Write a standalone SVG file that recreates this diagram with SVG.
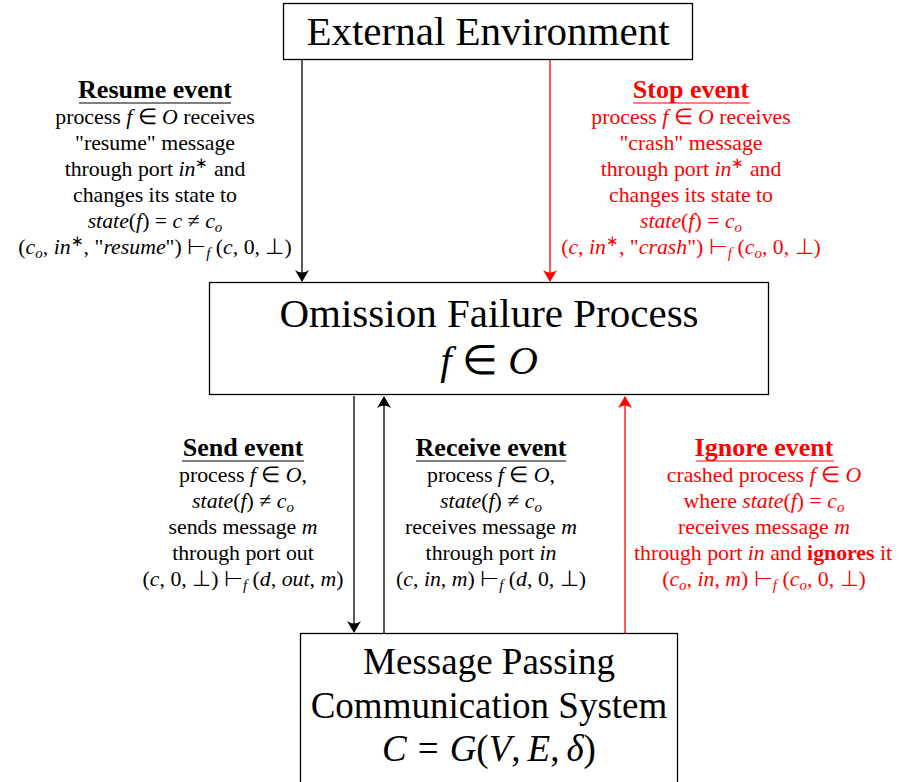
<svg xmlns="http://www.w3.org/2000/svg" width="899" height="782" viewBox="0 0 899 782">
  <style>
    text { font-family: "Liberation Serif", "Times New Roman", serif; text-anchor: middle; }
    .box { fill: #ffffff; stroke: #000000; stroke-width: 1.3; }
    .big { font-size: 41px; }
    .sys { font-size: 37px; }
    .lbl { font-size: 21.8px; }
    .ttl { font-size: 26px; font-weight: bold; }
    .red { fill: #ff0000; }
    .blk { fill: #000000; }
    .i { font-style: italic; }
    .b { font-weight: bold; }
    .sub { font-style: italic; font-size: 15px; }
    .sup { font-size: 15px; }
    .ul { stroke-width: 1.2; }
    .wire { fill: none; stroke-width: 1.3; }
  </style>
  <defs>
    <marker id="ahBlack" viewBox="0 0 12 16" refX="11" refY="8" markerWidth="12" markerHeight="16" markerUnits="userSpaceOnUse" orient="auto">
      <path d="M0,1 Q5,8 0,15 L12,8 Z" fill="#000000"/>
    </marker>
    <marker id="ahRed" viewBox="0 0 12 16" refX="11" refY="8" markerWidth="12" markerHeight="16" markerUnits="userSpaceOnUse" orient="auto">
      <path d="M0,1 Q5,8 0,15 L12,8 Z" fill="#ff0000"/>
    </marker>
  </defs>

  <rect width="899" height="782" fill="#ffffff"/>

  <!-- connectors -->
  <g id="connectors">
    <line class="wire" x1="302" y1="60" x2="302" y2="281" stroke="#000000" marker-end="url(#ahBlack)"/>
    <line class="wire" x1="550" y1="60" x2="550" y2="281" stroke="#ff0000" marker-end="url(#ahRed)"/>
    <line class="wire" x1="354" y1="396" x2="354" y2="632" stroke="#000000" marker-end="url(#ahBlack)"/>
    <line class="wire" x1="384" y1="633" x2="384" y2="397" stroke="#000000" marker-end="url(#ahBlack)"/>
    <line class="wire" x1="625" y1="633" x2="625" y2="397" stroke="#ff0000" marker-end="url(#ahRed)"/>
  </g>

  <!-- nodes -->
  <g id="external-environment">
    <rect class="box" x="283.5" y="3.5" width="409" height="56"/>
    <text class="big" x="488" y="45">External Environment</text>
  </g>

  <g id="omission-failure-process">
    <rect class="box" x="209.5" y="282.5" width="559" height="112"/>
    <text class="big" x="489" y="327">Omission Failure Process</text>
    <text class="big" x="489" y="374"><tspan class="i">f</tspan> ∈ <tspan class="i">O</tspan></text>
  </g>

  <g id="message-passing-system">
    <rect class="box" x="300.5" y="633.5" width="377" height="155"/>
    <text class="sys" x="489" y="674">Message Passing</text>
    <text class="sys" x="489" y="718">Communication System</text>
    <text class="sys" x="489" y="761"><tspan class="i">C</tspan><tspan dx="11">=</tspan><tspan class="i" dx="11">G</tspan>(<tspan class="i">V</tspan>,<tspan class="i" dx="7">E</tspan>,<tspan class="i" dx="7">δ</tspan>)</text>
  </g>

  <!-- event labels -->
  <g id="resume-event" class="blk">
    <text class="ttl" x="155" y="98">Resume event</text>
    <line class="ul" x1="79" y1="103" x2="231" y2="103" stroke="#000000"/>
    <text class="lbl" x="155" y="124">process <tspan class="i">f</tspan> ∈ <tspan class="i">O</tspan> receives</text>
    <text class="lbl" x="155" y="150">"resume" message</text>
    <text class="lbl" x="155" y="176">through port <tspan class="i">in</tspan><tspan class="sup" dy="-8">∗</tspan><tspan dy="8"> and</tspan></text>
    <text class="lbl" x="155" y="202">changes its state to</text>
    <text class="lbl" x="155" y="228"><tspan class="i">state</tspan>(<tspan class="i">f</tspan>) = <tspan class="i">c</tspan> ≠ <tspan class="i">c</tspan><tspan class="sub" dy="4">o</tspan></text>
    <text class="lbl" x="155" y="254">(<tspan class="i">c</tspan><tspan class="sub" dy="4">o</tspan><tspan dy="-4">, </tspan><tspan class="i">in</tspan><tspan class="sup" dy="-8">∗</tspan><tspan dy="8">, "</tspan><tspan class="i">resume</tspan>") ⊢<tspan class="sub" dy="4">f</tspan><tspan dy="-4"> (</tspan><tspan class="i">c</tspan>, 0, ⊥)</text>
  </g>

  <g id="stop-event" class="red">
    <text class="ttl" x="691" y="98">Stop event</text>
    <line class="ul" x1="633" y1="103" x2="750" y2="103" stroke="#ff0000"/>
    <text class="lbl" x="691" y="124">process <tspan class="i">f</tspan> ∈ <tspan class="i">O</tspan> receives</text>
    <text class="lbl" x="691" y="150">"crash" message</text>
    <text class="lbl" x="691" y="176">through port <tspan class="i">in</tspan><tspan class="sup" dy="-8">∗</tspan><tspan dy="8"> and</tspan></text>
    <text class="lbl" x="691" y="202">changes its state to</text>
    <text class="lbl" x="691" y="228"><tspan class="i">state</tspan>(<tspan class="i">f</tspan>) = <tspan class="i">c</tspan><tspan class="sub" dy="4">o</tspan></text>
    <text class="lbl" x="691" y="254">(<tspan class="i">c</tspan>, <tspan class="i">in</tspan><tspan class="sup" dy="-8">∗</tspan><tspan dy="8">, "</tspan><tspan class="i">crash</tspan>") ⊢<tspan class="sub" dy="4">f</tspan><tspan dy="-4"> (</tspan><tspan class="i">c</tspan><tspan class="sub" dy="4">o</tspan><tspan dy="-4">, 0, ⊥)</tspan></text>
  </g>

  <g id="send-event" class="blk">
    <text class="ttl" x="243" y="456">Send event</text>
    <line class="ul" x1="182" y1="461" x2="304" y2="461" stroke="#000000"/>
    <text class="lbl" x="243" y="482">process <tspan class="i">f</tspan> ∈ <tspan class="i">O</tspan>,</text>
    <text class="lbl" x="243" y="508"><tspan class="i">state</tspan>(<tspan class="i">f</tspan>) ≠ <tspan class="i">c</tspan><tspan class="sub" dy="4">o</tspan></text>
    <text class="lbl" x="243" y="534">sends message <tspan class="i">m</tspan></text>
    <text class="lbl" x="243" y="560">through port out</text>
    <text class="lbl" x="243" y="586">(<tspan class="i">c</tspan>, 0, ⊥) ⊢<tspan class="sub" dy="4">f</tspan><tspan dy="-4"> (</tspan><tspan class="i">d</tspan>, <tspan class="i">out</tspan>, <tspan class="i">m</tspan>)</text>
  </g>

  <g id="receive-event" class="blk">
    <text class="ttl" x="491" y="456">Receive event</text>
    <line class="ul" x1="416" y1="461" x2="566" y2="461" stroke="#000000"/>
    <text class="lbl" x="491" y="482">process <tspan class="i">f</tspan> ∈ <tspan class="i">O</tspan>,</text>
    <text class="lbl" x="491" y="508"><tspan class="i">state</tspan>(<tspan class="i">f</tspan>) ≠ <tspan class="i">c</tspan><tspan class="sub" dy="4">o</tspan></text>
    <text class="lbl" x="491" y="534">receives message <tspan class="i">m</tspan></text>
    <text class="lbl" x="491" y="560">through port <tspan class="i">in</tspan></text>
    <text class="lbl" x="491" y="586">(<tspan class="i">c</tspan>, <tspan class="i">in</tspan>, <tspan class="i">m</tspan>) ⊢<tspan class="sub" dy="4">f</tspan><tspan dy="-4"> (</tspan><tspan class="i">d</tspan>, 0, ⊥)</text>
  </g>

  <g id="ignore-event" class="red">
    <text class="ttl" x="764" y="456">Ignore event</text>
    <line class="ul" x1="696" y1="461" x2="834" y2="461" stroke="#ff0000"/>
    <text class="lbl" x="764" y="482">crashed process <tspan class="i">f</tspan> ∈ <tspan class="i">O</tspan></text>
    <text class="lbl" x="764" y="508">where <tspan class="i">state</tspan>(<tspan class="i">f</tspan>) = <tspan class="i">c</tspan><tspan class="sub" dy="4">o</tspan></text>
    <text class="lbl" x="764" y="534">receives message <tspan class="i">m</tspan></text>
    <text class="lbl" x="763" y="560">through port <tspan class="i">in</tspan> and <tspan class="b">ignores</tspan> it</text>
    <text class="lbl" x="764" y="586">(<tspan class="i">c</tspan><tspan class="sub" dy="4">o</tspan><tspan dy="-4">, </tspan><tspan class="i">in</tspan>, <tspan class="i">m</tspan>) ⊢<tspan class="sub" dy="4">f</tspan><tspan dy="-4"> (</tspan><tspan class="i">c</tspan><tspan class="sub" dy="4">o</tspan><tspan dy="-4">, 0, ⊥)</tspan></text>
  </g>
</svg>
